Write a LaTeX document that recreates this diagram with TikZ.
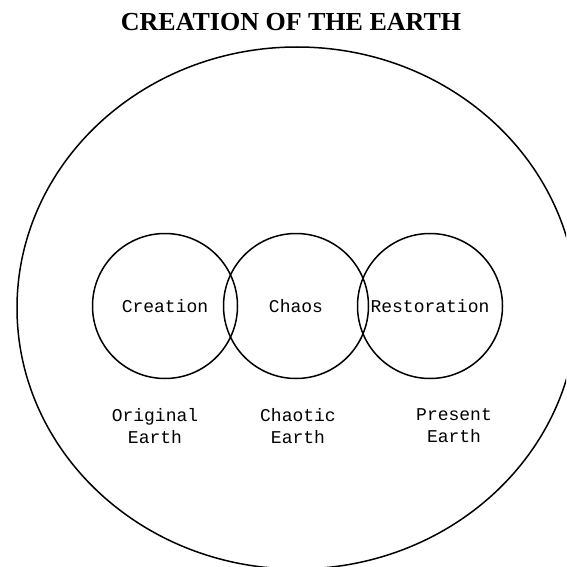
\documentclass[tikz,border=0pt]{standalone}
\usepackage{fontspec}
\setmainfont{Liberation Serif}
\newfontfamily\labelfont{Liberation Mono}
\begin{document}
\begin{tikzpicture}[x=1pt,y=-1pt,
  ring/.style={draw=black,line width=1.5pt,circle,minimum size=145pt,inner sep=0pt,
    font=\labelfont\fontsize{18}{20}\selectfont},
  caption/.style={align=center,font=\labelfont\fontsize{18}{22}\selectfont,inner sep=0pt}]
\useasboundingbox (0,0) rectangle (566,567);
\clip (0,0) rectangle (566,567);
\fill[white] (0,0) rectangle (566,567);
\node[font=\bfseries\fontsize{26}{30}\selectfont,inner sep=0pt] (title) at (291,22) {CREATION OF THE EARTH};
\draw[line width=1.5pt] (297,308) ellipse [x radius=280, y radius=261];
\node[ring] (creation) at (165,306) {Creation};
\node[ring] (chaos) at (296,306) {Chaos};
\node[ring] (restoration) at (430,306) {Restoration};
\node[caption] (original) at (155,426) {Original\\Earth};
\node[caption] (chaotic) at (298,426) {Chaotic\\Earth};
\node[caption] (present) at (454,426) {Present\\Earth};
\end{tikzpicture}
\end{document}
